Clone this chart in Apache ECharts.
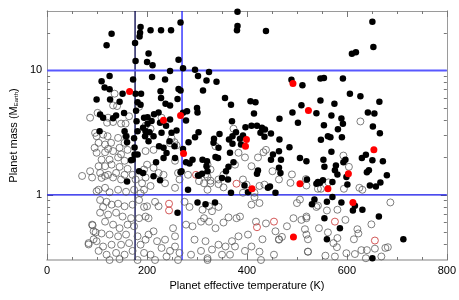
<!DOCTYPE html>
<html><head><meta charset="utf-8">
<script src="https://cdn.jsdelivr.net/npm/echarts@6/dist/echarts.min.js"></script>
<style>html,body{margin:0;padding:0;background:#fff}#c{width:459px;height:300px}</style>
</head><body><div id="c"></div>
<script>
// Tick labels / values
const xMin = 0, xMax = 800, xInterval = 200;
const yMin = 0.3, yMax = 30;
const yMajorTicks = [1, 10];
const yMinorTicks = [0.4, 0.5, 0.6, 0.7, 0.8, 0.9, 2, 3, 4, 5, 6, 7, 8, 9, 20];
const refLinesX = [176, 270];
const refLinesY = [1, 10];

// Filled black points [temperature K, mass]
const filledPts = [
[129,19.7],[119,15.9],[176,16.6],[187,22.3],[186,20.1],[185,18.7],[207,21],[228,21],[248,21],[267,24.2],
[203,13.7],[177,11.9],[200,11.7],[211,11.0],[263,12.2],[246,9.9],[272,10.4],[296,10.1],[324,9.7],[302,9.0],
[319,8.3],[339,8.1],[236,8.45],[125,9.0],[172,8.45],[109,8.2],[210,8.85],[115,7.3],[125,7.05],[263,7.1],
[381,29.6],[381,22.7],[380,21],[438,20.7],[489,8.4],[511,7.6],[651,24.6],[653,15.4],[610,13.6],[618,14.0],
[547,8.6],[554,8.7],[592,8.6],
[177,6.5],[188,6.5],[151,6.5],[227,6.8],[267,6.9],[312,6.9],[99,5.84],[126,5.84],[145,5.6],[181,5.55],[187,5.3],
[228,6.0],[261,5.9],[356,6.0],[368,5.3],[407,5.66],[417,5.55],[509,5.25],[237,5.4],[246,5.23],[300,5.0],
[301,4.6],[280,4.7],[272,4.56],[414,4.5],[491,4.6],[502,3.8],[465,4.09],[246,4.03],[226,3.8],[238,3.6],
[278,3.96],[370,3.9],[397,3.5],[409,3.6],[420,3.6],[430,3.46],[436,3.35],[427,3.15],[448,3.11],[435,2.93],
[465,2.78],[485,2.41],[378,3.19],[371,2.96],[364,2.78],[371,2.58],[386,2.82],[345,3.09],[334,2.82],[333,2.62],
[303,3.19],[296,2.9],[283,2.65],[229,3.15],[249,3.15],[259,3.29],[245,2.7],[255,2.46],[224,2.46],[233,2.39],
[388,2.54],[392,3.0],
[178,4.75],[154,4.55],[106,4.43],[112,4.17],[132,4.12],[138,4.35],[194,4.17],[201,4.2],[214,4.45],[209,3.93],
[201,3.72],[192,3.46],[179,3.9],[105,3.25],[155,3.25],[181,3.25],[197,3.25],[196,2.96],[213,2.96],[158,2.96],
[203,2.7],[160,2.65],[175,2.4],[174,2.85],[205,3.19],[223,4.6],
[547,5.74],[575,5.4],[665,5.6],[606,6.5],[627,6.2],[539,4.53],[569,4.34],[589,4.1],[592,3.72],[642,4.6],
[655,4.5],[554,3.63],[582,3.37],[652,3.54],[666,3.13],[562,2.96],[567,2.9],[590,2.9],[548,2.77],
[175,2.11],[181,2.11],[171,1.92],[168,1.9],[184,1.55],[192,1.5],[218,1.83],[213,1.41],[226,1.31],[160,1.28],
[233,1.98],[272,2.34],[239,2.17],[256,1.98],[291,1.92],[269,1.55],[311,1.92],[320,1.86],[321,1.55],
[278,1.83],[285,1.79],[337,2.02],[342,1.98],[373,1.83],[363,1.68],[358,1.55],[362,1.33],[350,1.37],[310,1.48],
[302,1.43],[319,1.7],[267,1.52],[282,1.1],[368,1.04],[301,0.87],[317,0.84],[336,0.87],[261,0.72],
[422,1.57],[420,1.48],[402,1.05],[395,1.19],[467,1.5],[446,1.17],[442,1.14],[457,1.04],[464,2.24],[452,2.11],
[506,1.98],[448,1.92],[468,1.92],[464,1.65],[343,2.39],[366,2.18],[304,1.43],
[569,2.22],[519,1.86],[553,1.92],[555,1.68],[578,1.72],[576,1.58],[581,1.46],[593,1.83],[597,1.92],[599,1.39],
[601,1.21],[630,1.98],[638,2.1],[651,1.9],[672,1.86],[640,1.52],[644,1.58],[680,1.44],[667,1.26],[646,1.19],
[658,1.17],[542,1.27],[546,1.25],[539,1.23],[552,1.31],[571,1.27],[520,1.33],[535,0.917],[530,0.84],[560,0.88],
[571,0.96],[589,0.87],[616,0.82],[612,0.75],[631,0.76],[555,0.65],[586,0.54],[664,0.67],[560,0.44],[713,0.44],
[651,0.31]
];

// Red filled points
const redFilledPts = [
[165,6.77],[233,3.98],[267,4.34],[273,2.15],[492,7.85],[523,4.76],[399,2.78],[397,2.46],[410,1.12],[506,1.23],
[493,0.46],[603,1.48],[562,1.12],[612,0.87],[654,2.3]
];

// Red open points
const redOpenPts = [
[244,0.85],[244,0.75],[298,1.45],[379,1.23],[420,0.55],[454,0.61],[576,0.61],[656,0.43]
];

// Open (grey) points
const openPts = [
[86,4.17],[101,4.56],[135,6.5],[132,5.23],[140,5.17],[122,4.17],[120,3.8],[148,3.74],[157,3.74],[184,5.1],
[96,3.15],[99,2.96],[112,3.05],[121,2.96],[103,2.62],[116,2.54],[128,2.62],[142,2.87],[155,2.62],[158,2.96],
[95,2.39],[122,2.34],[145,2.39],[164,4.28],[132,3.85],
[99,2.18],[116,2.2],[132,2.25],[148,2.12],[161,2.3],[109,1.92],[125,1.92],[142,2.0],[155,1.88],[103,1.7],
[116,1.7],[129,1.75],[145,1.68],[161,1.62],[86,1.55],[106,1.5],[122,1.45],[138,1.5],[155,1.45],[171,1.45],[109,1.37],
[70,1.42],[90,1.38],[116,1.42],[132,1.38],[148,1.33],[177,1.33],[190,1.24],[103,1.1],[116,1.14],[125,1.05],
[142,1.1],[158,1.06],[174,1.1],[187,1.03],[106,0.91],[119,0.88],[129,0.835],[112,0.8],[142,0.85],[155,0.81],
[171,0.835],[184,0.91],[194,0.8],[106,0.72],[122,0.695],[138,0.72],[151,0.67],[168,0.65],[184,0.65],[116,0.61],
[132,0.577],[145,0.54],[161,0.577],[174,0.56],[90,0.577],[93,0.51],[109,0.49],[125,0.48],[142,0.465],[158,0.48],
[181,0.465],[83,0.41],[99,0.425],[112,0.385],[129,0.398],[148,0.398],[164,0.41],[187,0.398],[103,0.355],[119,0.331],
[138,0.342],[155,0.331],[171,0.355],[194,0.342],[125,0.30],[145,0.305],[181,0.30],
[83,0.4],[99,1.07],[91,0.57],[97,0.5],[93,0.44],
[197,3.6],[207,3.4],[249,2.85],[255,2.65],[246,2.6],[259,2.5],[197,2.25],[213,2.3],[200,1.75],[194,1.6],
[213,1.65],[223,1.5],[233,1.45],[256,1.88],[262,1.5],[282,1.45],[321,1.75],[229,4.17],[337,2.46],
[197,1.38],[207,1.18],[194,1.1],[236,1.24],[256,1.14],[265,1.33],[314,1.24],[321,1.1],[216,0.88],[200,0.81],
[197,0.67],[203,0.65],[223,0.81],[275,0.88],[285,0.8],[311,0.76],[314,0.65],[213,0.51],[203,0.48],[197,0.437],
[220,0.425],[236,0.437],[252,0.54],[256,0.465],[278,0.577],[291,0.56],[308,0.61],[295,0.437],[317,0.425],[229,0.375],
[246,0.355],[256,0.385],[265,0.342],[239,0.32],[288,0.331],[308,0.355],[321,0.31],[207,0.331],[216,0.3],[262,0.3],
[373,3.4],[433,2.2],[438,2.3],[383,2.18],[396,2.0],[422,2.0],[327,1.6],[376,1.75],[409,1.7],[451,1.55],
[321,1.4],[353,1.45],
[317,1.46],[304,1.29],[327,1.3],[343,1.33],[392,1.04],[415,1.04],[435,1.21],[399,1.21],[490,1.46],[487,1.25],
[519,1.19],[500,0.86],[506,0.917],[509,0.63],[519,0.67],[480,0.56],[522,0.44],[522,0.35],[470,0.46],[464,0.44],
[493,0.65],
[327,1.24],[343,1.22],[353,1.15],[392,1.33],[425,1.18],[464,1.33],[415,0.96],[425,0.86],[409,0.835],[324,0.81],
[330,0.74],[343,0.8],[363,0.66],[379,0.65],[386,0.67],[353,0.6],[324,0.61],[337,0.54],[418,0.61],[438,0.59],
[431,0.44],[402,0.48],[383,0.465],[370,0.425],[357,0.385],[376,0.385],[343,0.398],[330,0.364],[350,0.331],[366,0.331],
[396,0.355],[409,0.385],[425,0.35],[428,0.30],[454,0.331],[464,0.437],[457,0.51],[321,0.3],
[627,3.89],
[593,2.07],[604,1.68],[518,1.34],[542,1.12],[548,1.12],[563,1.26],[594,1.12],[625,1.14],[631,1.1],[687,0.87],
[542,0.82],[539,0.8],[560,0.75],[581,0.76],[519,0.65],[597,0.63],[544,0.54],[562,0.5],[516,0.53],[519,0.48],
[614,0.44],[621,0.53],[623,0.49],[649,0.58],[581,0.45],[573,0.41],[580,0.38],[576,0.32],[599,0.34],[616,0.335],
[629,0.36],[640,0.36],[638,0.31],[656,0.37],[677,0.375],[682,0.38],[522,0.35],[557,0.325],[669,0.32]
];

const chart = echarts.init(document.getElementById('c'), null, {renderer: 'canvas'});
const FONT = 'Liberation Sans, Arial, Helvetica, sans-serif';
const axisLineStyle = {color: '#9a9a9a', width: 1};
const tickStyle = {color: '#777', width: 1};

function xAx(pos, showLabel) {
  return {
    type: 'value', position: pos, min: xMin, max: xMax, interval: xInterval,
    axisLine: {show: true, onZero: false, lineStyle: pos === 'bottom' ? {color: '#c0c0c0', width: 2} : axisLineStyle},
    axisTick: {show: true, inside: true, length: 6, lineStyle: tickStyle},
    minorTick: {show: true, splitNumber: 4, length: 3, lineStyle: tickStyle},
    axisLabel: {show: showLabel, color: '#000', fontSize: 11, fontFamily: FONT, margin: 5},
    splitLine: {show: false},
    name: showLabel ? 'Planet effective temperature (K)' : '',
    nameLocation: 'middle', nameGap: 19,
    nameTextStyle: {color: '#000', fontSize: 11, fontFamily: FONT}
  };
}
function yAx(pos, major, showLabel) {
  return {
    type: 'log', logBase: 10, position: pos, min: yMin, max: yMax,
    axisLine: {show: true, onZero: false, lineStyle: axisLineStyle},
    axisTick: {show: true, inside: true, length: major ? 6 : 3, lineStyle: tickStyle,
               customValues: major ? yMajorTicks : yMinorTicks},
    axisLabel: {show: showLabel, color: '#000', fontSize: 11, fontFamily: FONT, margin: 5,
                customValues: yMajorTicks, formatter: v => String(Math.round(v))},
    splitLine: {show: false},
    name: showLabel ? 'Planet mass (M{s|Earth})' : '',
    nameLocation: 'middle', nameGap: 20,
    nameTextStyle: {color: '#000', fontSize: 11, fontFamily: FONT,
      rich: {s: {fontSize: 6, fontFamily: FONT, color: '#000', verticalAlign: 'bottom', padding: [4, 0, 0, 0]}}}
  };
}

function refLine(pts, color, width) {
  return {type: 'line', data: pts, z: 1, silent: true, symbol: 'none', showSymbol: false,
    animation: false, lineStyle: {type: 'solid', color: color, width: width, opacity: 1},
    emphasis: {disabled: true}};
}

chart.setOption({
  animation: false,
  backgroundColor: '#fff',
  grid: {left: 37.5, right: 12, top: 11, bottom: 40, containLabel: false},
  xAxis: [xAx('bottom', true), xAx('top', false)],
  yAxis: [yAx('left', true, true), yAx('left', false, false), yAx('right', true, false), yAx('right', false, false)],
  series: [
    refLine([[refLinesX[0], yMin], [refLinesX[0], yMax]], '#00004a', 1.3),
    refLine([[refLinesX[1], yMin], [refLinesX[1], yMax]], '#1c1cff', 1.3),
    refLine([[xMin, refLinesY[0]], [xMax, refLinesY[0]]], '#1010e8', 1.3),
    refLine([[xMin, refLinesY[1]], [xMax, refLinesY[1]]], '#5858ff', 2),
    {type: 'scatter', data: openPts, symbol: 'circle', symbolSize: 7, z: 2,
     itemStyle: {color: 'rgba(255,255,255,0)', borderColor: '#555', borderWidth: 0.75, opacity: 1}},
    {type: 'scatter', data: redOpenPts, symbol: 'circle', symbolSize: 7, z: 3,
     itemStyle: {color: 'rgba(255,255,255,0)', borderColor: '#c83030', borderWidth: 0.8, opacity: 1}},
    {type: 'scatter', data: filledPts, symbol: 'circle', symbolSize: 6.5, z: 4,
     itemStyle: {color: '#000', opacity: 1}},
    {type: 'scatter', data: redFilledPts, symbol: 'circle', symbolSize: 7, z: 5,
     itemStyle: {color: '#ff0000', opacity: 1}}
  ]
});
</script></body></html>
